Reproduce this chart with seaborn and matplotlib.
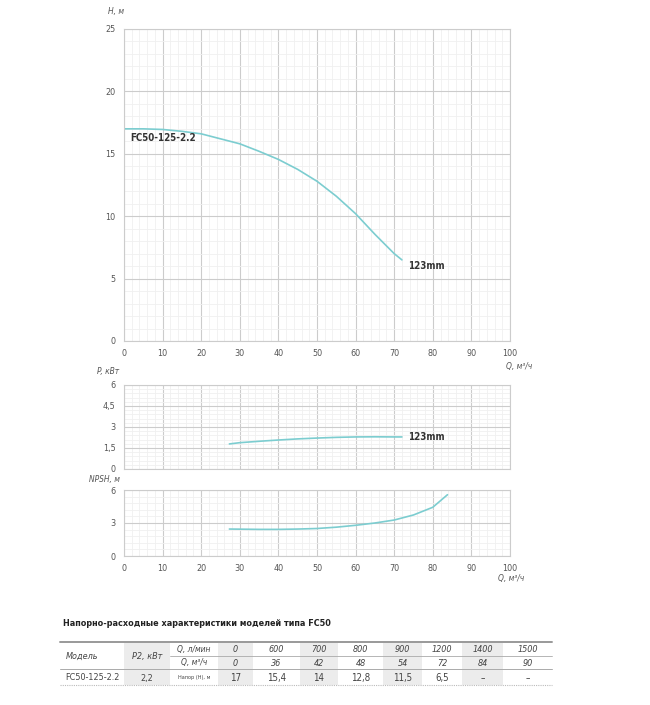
import numpy as np
import pandas as pd
import seaborn as sns
import matplotlib.pyplot as plt
from matplotlib.ticker import MultipleLocator
from matplotlib.patches import Rectangle

# curve readings
q_head = [0, 5, 10, 15, 20, 25, 30, 35, 40, 45, 50, 55, 60, 65, 70, 72]
head = [17.0, 17.0, 16.95, 16.8, 16.6, 16.2, 15.8, 15.2, 14.55, 13.75, 12.8, 11.6, 10.2, 8.55, 7.0, 6.5]
q_power = [27.3, 30, 35, 40, 45, 50, 55, 60, 65, 70, 72]
power = [1.79, 1.88, 1.98, 2.07, 2.15, 2.21, 2.26, 2.29, 2.3, 2.29, 2.29]
q_npsh = [27.3, 30, 35, 40, 45, 50, 55, 60, 65, 70, 75, 80, 83.8]
npsh = [2.45, 2.44, 2.42, 2.42, 2.45, 2.5, 2.62, 2.79, 3.0, 3.27, 3.73, 4.43, 5.57]

# table
tbl_title = "Напорно-расходные характеристики моделей типа FC50"
q_lmin = ["0", "600", "700", "800", "900", "1200", "1400", "1500"]
q_m3h = ["0", "36", "42", "48", "54", "72", "84", "90"]
h_vals = ["17", "15,4", "14", "12,8", "11,5", "6,5", "–", "–"]
model = "FC50-125-2.2"
p2 = "2,2"

sns.set_theme(style="white")
plt.rcParams['font.family'] = ['DejaVu Sans']
plt.rcParams['font.stretch'] = 'condensed'
line_c = "#7ccdd0"
tick_c = "#555555"

fig = plt.figure(figsize=(6.5, 7.05), dpi=100)
W, H = 650, 705


def mk_ax(top, bot):
    return fig.add_axes([124 / W, 1 - bot / H, (510 - 124) / W, (bot - top) / H])


def style(ax, ymax, ymaj, ymin, ylabels, xlabels=True):
    ax.set_xlim(0, 100)
    ax.set_ylim(0, ymax)
    ax.xaxis.set_major_locator(MultipleLocator(10))
    ax.xaxis.set_minor_locator(MultipleLocator(2))
    ax.yaxis.set_major_locator(MultipleLocator(ymaj))
    ax.yaxis.set_minor_locator(MultipleLocator(ymin))
    ax.grid(which="major", color="#cccccc", lw=0.8)
    ax.grid(which="minor", color="#f0f0f0", lw=0.6)
    ax.set_axisbelow(True)
    for s in ax.spines.values():
        s.set_color("#cccccc")
        s.set_linewidth(0.8)
    ax.tick_params(length=0, labelsize=6.5, colors=tick_c, pad=6)
    ax.set_yticks(np.arange(0, ymax + 0.01, ymaj))
    ax.set_yticklabels(ylabels)
    if not xlabels:
        ax.set_xticklabels([])
    ax.set_xlabel("")
    ax.set_ylabel("")


# head chart
ax1 = mk_ax(29, 341)
sns.lineplot(x=q_head, y=head, ax=ax1, color=line_c, lw=1.2)
style(ax1, 25, 5, 1, ["0", "5", "10", "15", "20", "25"])
ax1.text(1.5, 16.3, model, fontsize=7, fontweight="bold", color="#333333", va="center")
ax1.text(73.5, 6.0, "123mm", fontsize=7, fontweight="bold", color="#333333", va="center")
ax1.text(-2, 26.2, "H, м", fontsize=6, style="italic", color=tick_c, ha="center")
ax1.text(99, -1.7, "Q, м³/ч", fontsize=6, style="italic", color=tick_c, ha="left", va="top")

# power chart
ax2 = mk_ax(385, 469)
sns.lineplot(x=q_power, y=power, ax=ax2, color=line_c, lw=1.2)
style(ax2, 6, 1.5, 0.3, ["0", "1,5", "3", "4,5", "6"], xlabels=False)
ax2.text(73.5, 2.3, "123mm", fontsize=7, fontweight="bold", color="#333333", va="center")
ax2.text(-4, 6.8, "P, кВт", fontsize=6, style="italic", color=tick_c, ha="center")

# npsh chart
ax3 = mk_ax(490, 556)
sns.lineplot(x=q_npsh, y=npsh, ax=ax3, color=line_c, lw=1.2)
style(ax3, 6, 3, 0.6, ["0", "3", "6"])
ax3.text(-5, 6.7, "NPSH, м", fontsize=6, style="italic", color=tick_c, ha="center")
ax3.text(97, -1.6, "Q, м³/ч", fontsize=6, style="italic", color=tick_c, ha="left", va="top")

# table drawn in pixel coordinates
axt = fig.add_axes([0, 0, 1, 1], zorder=-1)
axt.set_xlim(0, W)
axt.set_ylim(H, 0)
axt.axis("off")
axt.text(63, 624, tbl_title, fontsize=6.5, fontweight="bold", color="#222222", va="center")

edges = [60, 124, 170, 218, 253, 300, 338, 383, 422, 462, 503, 552]
gray = "#ececec"
axt.add_patch(Rectangle((124, 642), 46, 43, color=gray, lw=0))
for i in range(len(q_lmin)):
    if i % 2 == 0:
        axt.add_patch(Rectangle((edges[3 + i], 642), edges[4 + i] - edges[3 + i], 43, color=gray, lw=0))
axt.plot([60, 552], [642, 642], color="#999999", lw=1.4)
axt.plot([170, 552], [655.5, 655.5], color="#aaaaaa", lw=0.6)
axt.plot([60, 552], [669, 669], color="#aaaaaa", lw=0.7)
axt.plot([60, 552], [685, 685], color="#bbbbbb", lw=0.8, ls=(0, (1, 1)))

tc = "#444444"
axt.text(66, 656, "Модель", fontsize=6.5, style="italic", color=tc, va="center")
axt.text(147, 656, "P2, кВт", fontsize=6.5, style="italic", color=tc, va="center", ha="center")
axt.text(194, 649.5, "Q, л/мин", fontsize=6, style="italic", color=tc, va="center", ha="center")
axt.text(194, 663, "Q, м³/ч", fontsize=6, style="italic", color=tc, va="center", ha="center")
axt.text(194, 678, "Напор (Н), м", fontsize=4, color=tc, va="center", ha="center")
axt.text(65, 678, model, fontsize=6.5, color=tc, va="center")
axt.text(147, 678, p2, fontsize=6.5, color=tc, va="center", ha="center")
for i in range(len(q_lmin)):
    cx = (edges[3 + i] + edges[4 + i]) / 2
    axt.text(cx, 649.5, q_lmin[i], fontsize=6.5, style="italic", color=tc, va="center", ha="center")
    axt.text(cx, 663, q_m3h[i], fontsize=6.5, style="italic", color=tc, va="center", ha="center")
    axt.text(cx, 678, h_vals[i], fontsize=7, color=tc, va="center", ha="center")

fig.savefig("out.png", dpi=100)
